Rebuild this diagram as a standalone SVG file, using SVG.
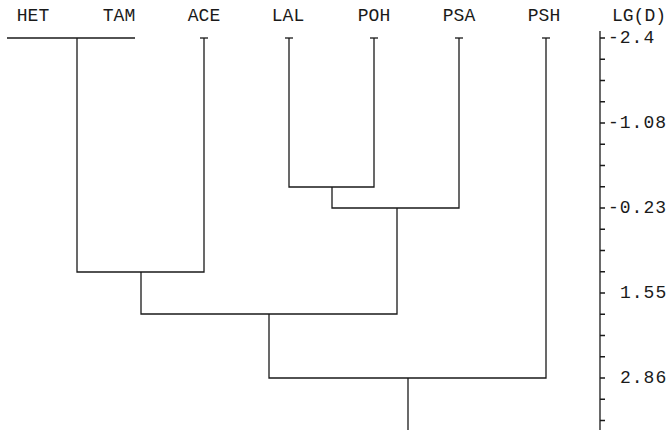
<svg xmlns="http://www.w3.org/2000/svg" width="671" height="430" viewBox="0 0 671 430">
  <defs>
    <style>
      .lbl { font-family: "Liberation Mono", "DejaVu Sans Mono", monospace; font-size: 18px; fill: #1a1a1a; }
      .num { font-family: "Liberation Mono", "DejaVu Sans Mono", monospace; font-size: 18px; fill: #1a1a1a; letter-spacing: 1px; }
      .ln { stroke: #1a1a1a; stroke-width: 1.3; fill: none; }
    </style>
  </defs>
  <rect width="671" height="430" fill="#ffffff"/>

  <!-- leaf taxa: label + stem cap -->
  <g id="HET"><text class="lbl" x="33" y="21" text-anchor="middle">HET</text></g>
  <g id="TAM"><text class="lbl" x="119" y="21" text-anchor="middle">TAM</text></g>
  <g id="ACE"><text class="lbl" x="204" y="21" text-anchor="middle">ACE</text>
    <path class="ln" d="M200 38H208"/></g>
  <g id="LAL"><text class="lbl" x="288" y="21" text-anchor="middle">LAL</text>
    <path class="ln" d="M285 38H293"/></g>
  <g id="POH"><text class="lbl" x="374" y="21" text-anchor="middle">POH</text>
    <path class="ln" d="M370 38H378"/></g>
  <g id="PSA"><text class="lbl" x="459" y="21" text-anchor="middle">PSA</text>
    <path class="ln" d="M455 38H463"/></g>
  <g id="PSH"><text class="lbl" x="544" y="21" text-anchor="middle">PSH</text>
    <path class="ln" d="M542 38H550"/></g>

  <!-- dendrogram branches -->
  <g id="connectors" class="ln">
    <path class="ln" d="M7 38H135"/>
    <path class="ln" d="M77 38V272H204V38"/>
    <path class="ln" d="M289 38V187H374V38"/>
    <path class="ln" d="M332 187V208H459V38"/>
    <path class="ln" d="M141 272V314H397V208"/>
    <path class="ln" d="M269 314V378H546V38"/>
    <path class="ln" d="M408 378V430"/>
  </g>

  <!-- distance scale -->
  <g id="axis">
    <text class="lbl" x="612" y="21">LG(D)</text>
    <path class="ln" d="M600 31V430"/>
    <path class="ln" d="M600 38h5M600 59.25h5M600 80.5h5M600 101.75h5M600 123h5M600 144.25h5M600 165.5h5M600 186.75h5M600 208h5M600 229.25h5M600 250.5h5M600 271.75h5M600 293h5M600 314.25h5M600 335.5h5M600 356.75h5M600 378h5M600 399.25h5M600 420.5h5"/>
    <text class="num" x="608" y="43">-2.4</text>
    <text class="num" x="608" y="128">-1.08</text>
    <text class="num" x="608" y="213">-0.23</text>
    <text class="num" x="620" y="298">1.55</text>
    <text class="num" x="620" y="383">2.86</text>
  </g>
</svg>
